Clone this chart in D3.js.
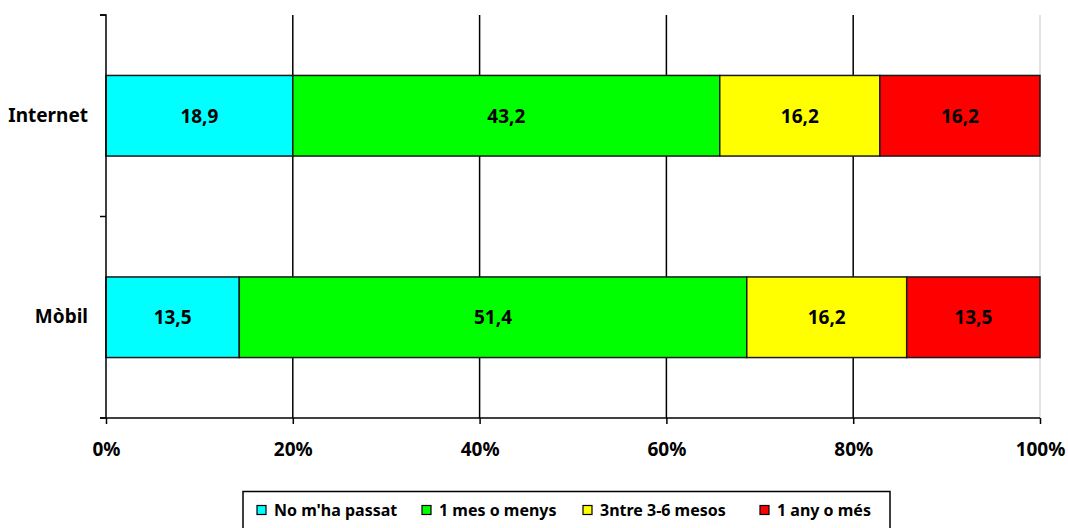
<html>
<head>
<meta charset="utf-8">
<script src="https://cdnjs.cloudflare.com/ajax/libs/d3/7.8.5/d3.min.js"></script>
<style>
  body { margin: 0; background: #fff; }
  text { font-family: "Noto Sans", "Open Sans", sans-serif; font-weight: bold; fill: #000; }
</style>
</head>
<body>
<div id="chart"></div>
<script>
// data
const categories = ['Internet', 'Mòbil'];
const seriesNames = ["No m'ha passat", '1 mes o menys', '3ntre 3-6 mesos', '1 any o més'];
const noPassat = [18.9, 13.5];
const unMes = [43.2, 51.4];
const entre36 = [16.2, 16.2];
const unAny = [16.2, 13.5];
const xTicks = [0, 0.2, 0.4, 0.6, 0.8, 1];

const colors = ['#00ffff', '#00ff00', '#ffff00', '#ff0000'];
const seriesValues = [noPassat, unMes, entre36, unAny];

const W = 1068, H = 528;
const plotLeft = 106, plotRight = 1040, plotTop = 15, plotBottom = 418;
const fontMain = '19px';

const svg = d3.select('#chart').append('svg')
  .attr('width', W).attr('height', H);

const x = d3.scaleLinear().domain([0, 1]).range([plotLeft, plotRight]);
const y = d3.scaleBand().domain(categories).range([plotTop, plotBottom])
  .paddingInner(0.6).paddingOuter(0.3);

// build stacked (normalised to 100%) rows
const rows = categories.map((c, i) => {
  const r = { cat: c };
  seriesNames.forEach((s, j) => r[s] = seriesValues[j][i]);
  return r;
});
const stacked = d3.stack().keys(seriesNames).offset(d3.stackOffsetExpand)(rows);

// gridlines
svg.append('g').selectAll('line')
  .data(xTicks.filter(t => t > 0))
  .join('line')
    .attr('x1', d => x(d)).attr('x2', d => x(d))
    .attr('y1', plotTop).attr('y2', plotBottom)
    .attr('stroke', d => d === 1 ? '#c8c8c8' : '#000')
    .attr('stroke-width', d => d === 1 ? 1 : 1.5);

// bars
const layer = svg.append('g').selectAll('g')
  .data(stacked)
  .join('g')
    .attr('fill', (d, i) => colors[i]);

layer.selectAll('rect')
  .data(d => d)
  .join('rect')
    .attr('x', d => x(d[0]))
    .attr('width', d => x(d[1]) - x(d[0]))
    .attr('y', d => y(d.data.cat))
    .attr('height', y.bandwidth())
    .attr('stroke', '#1a1a1a')
    .attr('stroke-width', 1.5);

layer.selectAll('text')
  .data(d => d.map(v => ({ v, key: d.key })))
  .join('text')
    .attr('x', d => (x(d.v[0]) + x(d.v[1])) / 2)
    .attr('y', d => y(d.v.data.cat) + y.bandwidth() / 2)
    .attr('dy', '0.36em')
    .attr('text-anchor', 'middle')
    .style('font-size', fontMain)
    .text(d => String(d.v.data[d.key]).replace('.', ','));

// x axis
const xAxis = svg.append('g')
  .attr('transform', `translate(0,${plotBottom})`)
  .call(d3.axisBottom(x).tickValues(xTicks).tickFormat(d3.format('.0%')).tickSizeInner(6).tickSizeOuter(0));
xAxis.select('.domain').attr('stroke', '#000').attr('stroke-width', 1.5)
  .attr('d', `M${plotLeft - 6},0H${plotRight}`);
xAxis.selectAll('.tick line').attr('stroke', '#000').attr('stroke-width', 1.5);
xAxis.selectAll('.tick text')
  .attr('dy', 0).attr('y', 38)
  .style('font-size', fontMain).style('font-family', '"Noto Sans", sans-serif').style('font-weight', 'bold');

// y axis
const yAxis = svg.append('g')
  .attr('transform', `translate(${plotLeft},0)`)
  .call(d3.axisLeft(y).tickSize(0).tickPadding(18));
yAxis.select('.domain').attr('stroke', '#000').attr('stroke-width', 1.5)
  .attr('d', `M-6,${plotTop}H0V${plotBottom}`);
yAxis.selectAll('.tick text')
  .style('font-size', fontMain).style('font-family', '"Noto Sans", sans-serif').style('font-weight', 'bold');
// tick marks between categories
const bounds = [plotTop, (y(categories[0]) + y.bandwidth() + y(categories[1])) / 2, plotBottom];
yAxis.append('g').selectAll('line')
  .data(bounds)
  .join('line')
    .attr('x1', -6).attr('x2', 0)
    .attr('y1', d => d).attr('y2', d => d)
    .attr('stroke', '#000').attr('stroke-width', 1.5);

// legend
const legend = svg.append('g');
legend.append('rect')
  .attr('x', 243).attr('y', 491.5).attr('width', 647).attr('height', 45)
  .attr('fill', '#fff').attr('stroke', '#000').attr('stroke-width', 1.5);
const legendX = [257, 422, 583, 760];
const item = legend.selectAll('g.item')
  .data(seriesNames)
  .join('g')
    .attr('class', 'item')
    .attr('transform', (d, i) => `translate(${legendX[i]},510)`);
item.append('rect')
  .attr('x', 0).attr('y', -4.5).attr('width', 9).attr('height', 9)
  .attr('fill', (d, i) => colors[i]).attr('stroke', '#000').attr('stroke-width', 1.2);
item.append('text')
  .attr('x', 17).attr('dy', '0.36em')
  .style('font-size', '16px')
  .text(d => d)
  .each(function (d, i) {
    // keep each label inside its slot
    const room = (i < legendX.length - 1 ? legendX[i + 1] : 885) - legendX[i] - 17 - 7;
    const len = this.getComputedTextLength();
    if (len > room) d3.select(this).style('font-size', (16 * room / len).toFixed(2) + 'px');
  });
</script>
</body>
</html>
